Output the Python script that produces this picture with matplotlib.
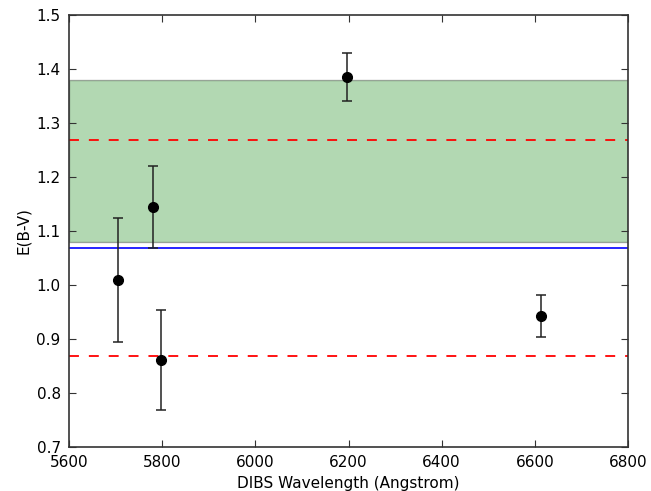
import matplotlib
matplotlib.use("Agg")
import matplotlib.pyplot as plt

wavelengths = [5705, 5780, 5797, 6196, 6614]
ebv = [1.009, 1.144, 0.861, 1.385, 0.943]
ebv_err = [0.115, 0.076, 0.093, 0.044, 0.039]

mean_ebv = 1.069
band_low, band_high = 1.079, 1.379
red_lines = [1.268, 0.869]

xticks = [5600, 5800, 6000, 6200, 6400, 6600, 6800]
yticks = [0.7, 0.8, 0.9, 1.0, 1.1, 1.2, 1.3, 1.4, 1.5]

plt.rcParams['font.family'] = ['DejaVu Sans']
fig = plt.figure(figsize=(6.51, 4.91), dpi=100)
ax = fig.add_axes([69/651, 1 - 447/491, (628-69)/651, (447-15)/491])

ax.axhspan(band_low, band_high, facecolor='g', edgecolor='k', alpha=0.3, linewidth=1)
ax.axhline(mean_ebv, color='b', linewidth=1.2)
for v in red_lines:
    ax.axhline(v, color='r', linestyle='--', linewidth=1.3, dashes=(5.5, 5.5))

ax.errorbar(wavelengths, ebv, yerr=ebv_err, fmt='o', color='k', markersize=7,
            ecolor='#222222', elinewidth=1.1, capsize=3.5, capthick=1.1)

ax.set_xlim(5600, 6800)
ax.set_ylim(0.7, 1.5)
ax.set_xticks(xticks)
ax.set_yticks(yticks)
ax.set_yticklabels([f"{t:.1f}" for t in yticks])
for s in ax.spines.values():
    s.set_color('#333333')
    s.set_linewidth(1.2)
ax.tick_params(direction='in', top=True, right=True, labelsize=11, length=5, pad=6, color='#333333')
ax.set_xlabel('DIBS Wavelength (Angstrom)', fontsize=11)
ax.set_ylabel('E(B-V)', fontsize=11)

fig.savefig('out.png', dpi=100)
